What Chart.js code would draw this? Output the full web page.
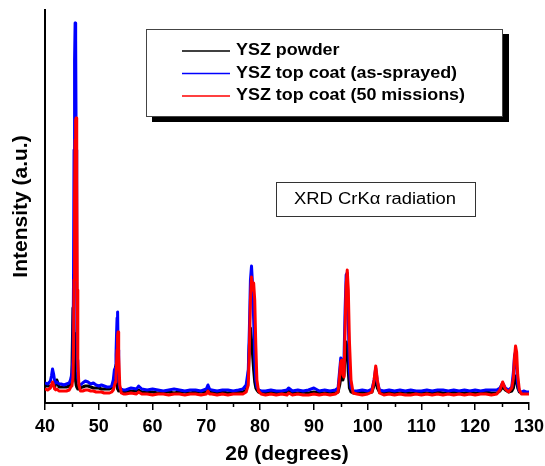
<!DOCTYPE html>
<html>
<head>
<meta charset="utf-8">
<title>YSZ XRD patterns</title>
<script src="https://cdn.jsdelivr.net/npm/chart.js@4.4.0/dist/chart.umd.min.js"></script>
<style>
  html, body { margin: 0; padding: 0; background: #fff; }
  #xrd-chart { display: block; }
</style>
</head>
<body>
<canvas id="xrd-chart" width="545" height="466"></canvas>
<script>
// scan positions, 2theta in degrees (one row per stretch of the pattern)
var twoTheta = [
    40, 40.5, 41, 41.2, 41.4, 41.6, 41.8, 42, 42.2, 42.4, 42.6, 43, 43.5, 44, 44.5, 44.8,
    45, 45.2, 45.3, 45.4, 45.5, 45.6, 45.7, 45.8, 45.9, 46, 46.1, 46.3, 46.6,
    47, 47.5, 48, 48.5, 49, 49.5, 50, 50.5, 51, 51.5, 52, 52.4,
    52.7, 52.9, 53.1, 53.2, 53.3, 53.4, 53.5, 53.6, 53.7, 53.9, 54.2, 54.6,
    55, 56, 57, 57.4, 58, 59, 60, 61, 62, 63, 64, 65, 66, 67, 68, 69, 70, 70.3, 70.6, 71, 72, 73, 74, 75, 76, 76.8,
    77.4, 77.8, 78, 78.2, 78.4, 78.6, 78.8, 79, 79.2, 79.4, 79.7, 80.2,
    81, 82, 83, 84, 85, 85.3, 86, 87, 88, 89, 90, 91, 92, 93, 94, 94.5,
    94.8, 95, 95.2, 95.4, 95.6, 95.8, 96, 96.2, 96.4, 96.6, 96.9, 97.3,
    98, 99, 100, 100.8, 101.2, 101.5, 101.8, 102.2,
    103, 104, 105, 106, 107, 108, 109, 110, 111, 112, 113, 114, 115, 116, 117, 118, 119, 120, 121, 122, 123, 124,
    124.6, 125.1, 125.6, 126.2, 126.8, 127.1, 127.3, 127.5, 127.7, 127.9, 128.2, 128.6, 129, 129.5, 130
];

// intensities (a.u.)
var yszPowder = [
    17, 17, 17, 17, 18, 17, 16, 19, 23, 20, 16, 16, 16, 16, 17, 20,
    30, 95, 92, 70, 45, 30, 22, 18, 16, 15, 14, 14, 15,
    16, 17, 17, 16, 15, 15, 15, 14, 14, 14, 14, 15,
    19, 26, 36, 38, 28, 19, 14, 13, 12, 12, 12, 11,
    11, 12, 12, 13, 11, 11, 11, 10, 11, 11, 10, 11, 11, 10, 11, 11, 11, 14, 11, 11, 10, 11, 10, 11, 11, 11,
    13, 28, 58, 75, 63, 48, 33, 21, 15, 13, 11, 10,
    10, 11, 10, 10, 11, 12, 10, 10, 11, 10, 11, 10, 10, 11, 10, 11,
    18, 25, 28, 23, 28, 48, 61, 53, 31, 15, 11, 10,
    10, 11, 10, 11, 18, 25, 15, 11,
    10, 11, 10, 10, 11, 10, 10, 11, 10, 10, 11, 10, 10, 11, 10, 10, 11, 10, 10, 11, 10, 10,
    12, 16, 13, 11, 12, 15, 21, 27, 23, 15, 11, 10, 10, 10, 10
];

var yszSprayed = [
    20, 19, 22, 27, 34, 29, 22, 20, 21, 20, 19, 19, 18, 19, 20, 24,
    30, 45, 120, 253, 343, 380, 363, 253, 103, 43, 25, 19, 18,
    20, 22, 21, 19, 20, 18, 17, 18, 17, 16, 16, 17,
    23, 33, 35, 48, 68, 85, 91, 53, 23, 15, 14, 13,
    13, 15, 14, 17, 14, 13, 14, 13, 12, 13, 14, 13, 12, 13, 13, 12, 14, 18, 14, 13, 12, 13, 13, 12, 13, 14,
    18, 33, 73, 123, 137, 118, 83, 43, 23, 16, 13, 12,
    12, 13, 12, 12, 13, 15, 12, 13, 12, 13, 15, 12, 13, 12, 13, 15,
    33, 45, 41, 31, 43, 93, 128, 130, 83, 33, 15, 12,
    12, 13, 12, 14, 23, 35, 21, 13,
    12, 13, 12, 13, 12, 13, 12, 12, 13, 12, 13, 13, 12, 13, 12, 13, 12, 13, 12, 13, 13, 13,
    15, 20, 15, 13, 16, 31, 47, 51, 35, 19, 12, 11, 12, 11, 11
];

var yszMissions = [
    14, 13, 15, 18, 21, 18, 14, 13, 14, 13, 12, 12, 12, 12, 13, 16,
    17, 25, 50, 123, 203, 263, 283, 285, 223, 113, 43, 18, 12,
    12, 13, 13, 12, 12, 11, 11, 11, 10, 10, 10, 11,
    13, 17, 21, 27, 38, 53, 67, 71, 48, 18, 10, 9,
    9, 10, 9, 11, 9, 9, 8, 9, 9, 8, 9, 9, 8, 9, 9, 8, 9, 12, 9, 9, 8, 9, 8, 9, 9, 9,
    11, 18, 53, 103, 126, 113, 120, 103, 58, 23, 12, 9,
    8, 9, 8, 9, 8, 10, 8, 9, 8, 8, 9, 8, 9, 8, 9, 11,
    28, 41, 43, 28, 26, 73, 118, 133, 113, 63, 23, 10,
    9, 8, 9, 11, 23, 37, 23, 10,
    8, 9, 8, 9, 8, 8, 9, 8, 9, 8, 9, 8, 9, 8, 9, 8, 9, 8, 9, 9, 8, 9,
    13, 21, 14, 11, 15, 25, 45, 57, 51, 28, 13, 9, 9, 9, 9
];

var seriesNames = ['YSZ powder', 'YSZ top coat (as-sprayed)', 'YSZ top coat (50 missions)'];
var seriesColors = ['#000000', '#0000ff', '#ff0000'];
var majorTicks = [40, 50, 60, 70, 80, 90, 100, 110, 120, 130];
var minorTicks = [45, 55, 65, 75, 85, 95, 105, 115, 125];
var noteText = 'XRD CrK\u03b1 radiation';

var FONT = "'Liberation Sans', Arial, sans-serif";

function toPoints(values){
    var pts = [];
    for (var i = 0; i < twoTheta.length; i++) {
        pts.push({x: twoTheta[i], y: values[i]});
    }
    return pts;
}

// text drawn slightly widened, like the rest of the figure
function wideText(ctx, text, x, y, sx){
    ctx.save();
    ctx.translate(x, y);
    ctx.scale(sx, 1);
    ctx.fillText(text, 0, 0);
    ctx.restore();
}

// legend box with drop shadow, note box and the short minor ticks
var decorations = {
    id: 'decorations',
    afterDraw: function(chart){
        var ctx = chart.ctx;
        var xs = chart.scales.x;
        var bottom = chart.chartArea.bottom;
        ctx.save();

        ctx.strokeStyle = '#000';
        ctx.lineWidth = 1.5;
        minorTicks.forEach(function(t){
            var px = Math.round(xs.getPixelForValue(t)) + 0.5;
            ctx.beginPath();
            ctx.moveTo(px, bottom);
            ctx.lineTo(px, bottom + 4);
            ctx.stroke();
        });

        // legend
        ctx.fillStyle = '#000';
        ctx.fillRect(152, 34, 357, 88);
        ctx.fillStyle = '#fff';
        ctx.fillRect(146, 29, 357, 88);
        ctx.strokeStyle = '#444';
        ctx.lineWidth = 1;
        ctx.strokeRect(146.5, 29.5, 356, 87);

        ctx.font = 'bold 16px ' + FONT;
        ctx.textBaseline = 'middle';
        ctx.textAlign = 'left';
        var rows = [51, 73.5, 96];
        for (var i = 0; i < seriesNames.length; i++) {
            ctx.strokeStyle = seriesColors[i];
            ctx.lineWidth = 1.5;
            ctx.beginPath();
            ctx.moveTo(182, rows[i]);
            ctx.lineTo(230, rows[i]);
            ctx.stroke();
            ctx.fillStyle = '#000';
            wideText(ctx, seriesNames[i], 236, rows[i], 1.12);
        }

        // radiation note
        ctx.strokeStyle = '#333';
        ctx.lineWidth = 1;
        ctx.strokeRect(276.5, 182.5, 199, 34);
        ctx.font = '16px ' + FONT;
        ctx.textAlign = 'center';
        ctx.fillStyle = '#000';
        wideText(ctx, noteText, 375, 200, 1.15);

        ctx.restore();
    }
};

var datasets = [];
for (var i = 0; i < seriesNames.length; i++) {
    datasets.push({
        label: seriesNames[i],
        data: toPoints([yszPowder, yszSprayed, yszMissions][i]),
        borderColor: seriesColors[i],
        borderWidth: 3,
        pointRadius: 0,
        tension: 0,
        borderJoinStyle: 'round',
        // red on top, black underneath
        order: [2, 1, 0][i]
    });
}

var chart = new Chart(document.getElementById('xrd-chart'), {
    type: 'line',
    data: { datasets: datasets },
    options: {
        responsive: false,
        animation: false,
        devicePixelRatio: 1,
        layout: { padding: { top: 10, right: 16, left: 0, bottom: 0 } },
        plugins: { legend: { display: false }, tooltip: { enabled: false } },
        scales: {
            x: {
                type: 'linear',
                min: 40,
                max: 130,
                afterFit: function(scale){
                    scale.height = 63;
                    // let the end labels hang over the plot edges
                    scale.paddingLeft = 0;
                    scale.paddingRight = 0;
                },
                afterBuildTicks: function(axis){
                    axis.ticks = majorTicks.map(function(v){ return {value: v}; });
                },
                grid: { drawOnChartArea: false, drawTicks: true, tickLength: 7, color: '#000', lineWidth: 1.5 },
                border: { color: '#000', width: 2 },
                ticks: { color: '#000', padding: 6, maxRotation: 0, font: { family: FONT, size: 18, weight: 'bold' } },
                title: { display: true, text: '2\u03b8 (degrees)', color: '#000', padding: { top: 0, bottom: -1 },
                         font: { family: FONT, size: 21, weight: 'bold' } }
            },
            y: {
                min: 0,
                max: 393,
                afterFit: function(scale){ scale.width = 45; },
                grid: { display: false },
                border: { color: '#000', width: 2 },
                ticks: { display: false },
                title: { display: true, text: 'Intensity (a.u.)', color: '#000', padding: { top: 9, bottom: 0 },
                         font: { family: FONT, size: 21, weight: 'bold' } }
            }
        }
    },
    plugins: [decorations]
});
</script>
</body>
</html>
